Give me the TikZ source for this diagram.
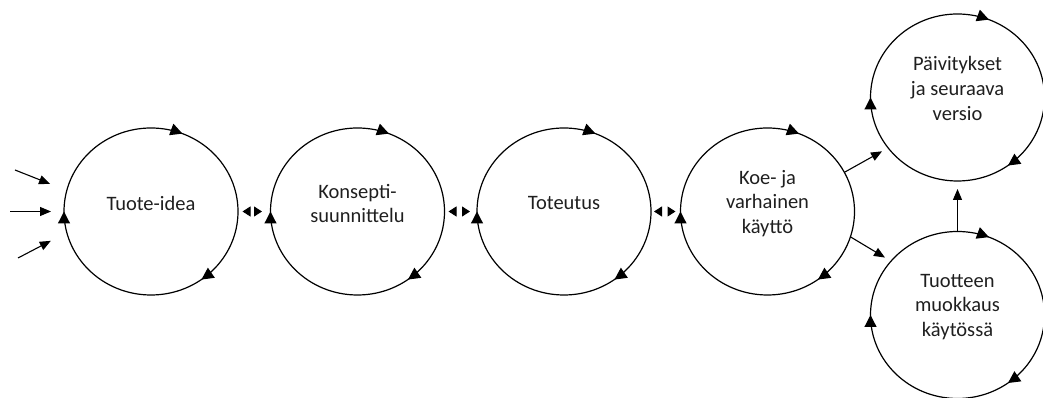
\documentclass[tikz,border=0pt]{standalone}
\usepackage{fontspec}
\setmainfont{Carlito}
\usetikzlibrary{shapes.geometric,arrows.meta,decorations.markings,calc}
\begin{document}
\begin{tikzpicture}[x=1pt,y=1pt,
  phase/.style={ellipse, draw, line width=1.2pt, minimum width=174pt, minimum height=167pt,
    inner sep=0pt, outer sep=0pt,
    postaction={decorate, decoration={markings,
      mark=at position 0.19 with {\arrowreversed{Triangle[length=12pt,width=12pt]}},
      mark=at position 0.5 with {\arrowreversed{Triangle[length=12pt,width=12pt]}},
      mark=at position 0.85 with {\arrowreversed{Triangle[length=12pt,width=12pt]}}}}},
  label/.style={font=\fontsize{20.5}{24.6}\selectfont, align=center, text=black!88},
  arr/.style={line width=1.1pt, -{Triangle[length=11pt,width=9pt]}},
  dbl/.style={draw=white, line width=1pt,
    {Triangle[length=8pt,width=10pt,black]}-{Triangle[length=8pt,width=10pt,black]}}]
\useasboundingbox (0,0) rectangle (1043,398);

% circles (centres from pixel coords: y = 398 - py)
\node[phase] (c1) at (151,186.5) {};
\node[phase] (c2) at (357.5,186.5) {};
\node[phase] (c3) at (564,186.5) {};
\node[phase] (c4) at (767.5,186.5) {};
\node[phase] (c5) at (957.5,300.5) {};
\node[phase] (c6) at (957.5,83) {};

% texts
\node[label] (t1) at ($(c1)+(0,8)$) {Tuote-idea};
\node[label] (t2) at ($(c2)+(0,8)$) {Konsepti-\\suunnittelu};
\node[label] (t3) at ($(c3)+(0,8)$) {Toteutus};
\node[label] (t4) at ($(c4)+(0,8)$) {Koe- ja\\varhainen\\käyttö};
\node[label] (t5) at ($(c5)+(0,9)$) {Päivitykset\\ja seuraava\\versio};
\node[label] (t6) at ($(c6)+(0,8)$) {Tuotteen\\muokkaus\\käytössä};

% incoming arrows
\coordinate (in1) at (15,228);
\coordinate (in2) at (10,186.5);
\coordinate (in3) at (18,140);
\draw[arr, shorten >=18pt] (in1) -- (c1.166);
\draw[arr, shorten >=13pt] (in2) -- (c1.west);
\draw[arr, shorten >=18pt] (in3) -- (c1.194);

% double arrows between phases
\draw[dbl, shorten <=4.5pt, shorten >=8.5pt] (c1.east) -- (c2.west);
\draw[dbl, shorten <=4pt, shorten >=7pt] (c2.east) -- (c3.west);
\draw[dbl, shorten <=3pt, shorten >=5pt] (c3.east) -- (c4.west);

% branching arrows
\draw[arr, shorten >=7pt] (c4.27) -- (c5.216);
\draw[arr, shorten >=7pt] (c4.-17) -- (c6.141);
\draw[arr, shorten >=8pt] (c6.north) -- (c5.south);
\end{tikzpicture}
\end{document}
